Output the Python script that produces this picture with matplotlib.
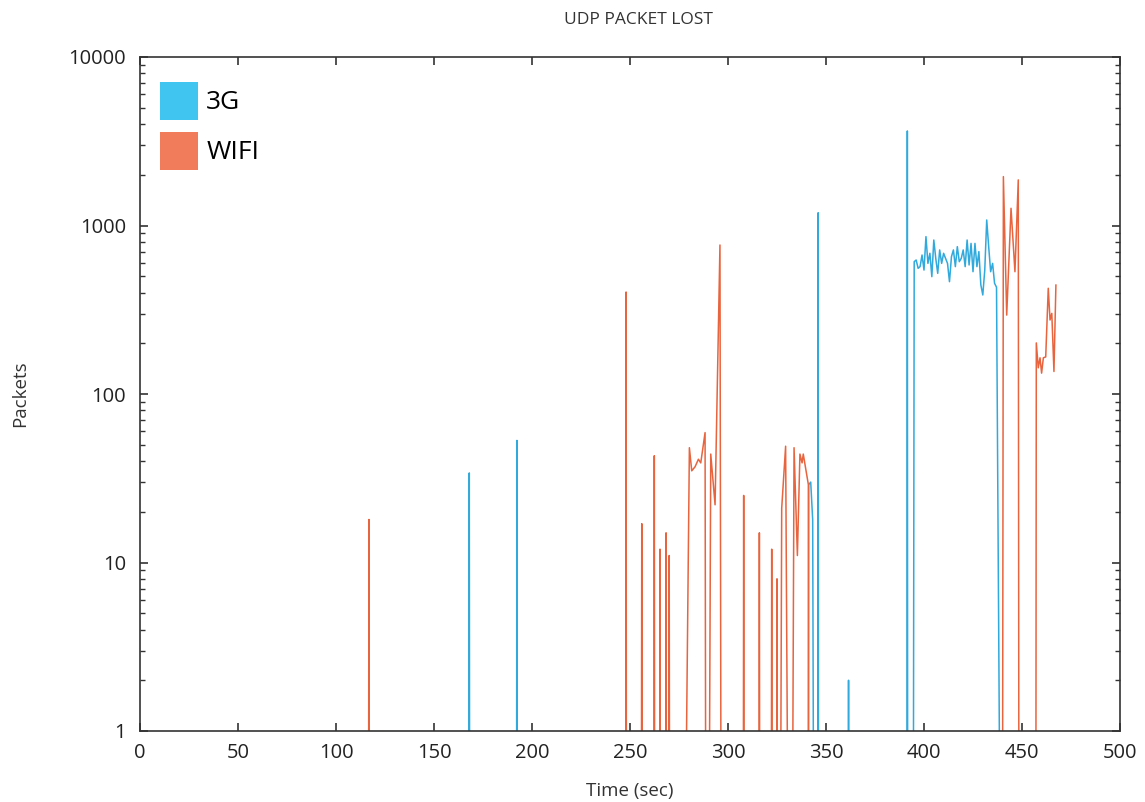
import numpy as np
import matplotlib
matplotlib.use('Agg')
import matplotlib.pyplot as plt
from matplotlib.patches import Patch
from matplotlib.ticker import LogLocator, FuncFormatter, NullFormatter

plt.rcParams['font.family'] = ['Open Sans', 'DejaVu Sans']

# 3G: single-sample spikes (time in sec, packets lost)
g3_spike_t = [168, 192.3, 346, 361.5, 391.5]
g3_spike_v = [34, 53, 1190, 2, 3640]
# 3G: continuous stretches (0 = no loss)
g3_seg1_t = [341.0, 341.2, 342.2, 343.2, 343.6]
g3_seg1_v = [0, 29, 30, 18, 0]
g3_seg2_t = [394.6] + list(np.arange(395, 438)) + [438.6]
g3_seg2_v = [0, 610, 624, 557, 570, 668, 544, 859, 596, 684, 497,
             820, 638, 520, 716, 596, 684, 638, 596, 464, 653,
             716, 570, 749, 610, 638, 716, 570, 820, 583, 783,
             532, 783, 570, 700, 444, 387, 544, 1078, 749, 532,
             596, 454, 430, 0]

# WIFI
wifi_spike_t = [116.8, 248, 256, 262.4, 265.3, 268.4, 270, 308, 316, 322.3, 325]
wifi_spike_v = [18, 403, 17, 43, 12, 15, 11, 25, 15, 12, 8]
wifi_seg1_t = [278.6, 280.3, 281.5, 283.2, 284.9, 286.1, 288.3, 288.6,
               290.5, 291.2, 293.4, 295.9, 296.4]
wifi_seg1_v = [0, 48, 35, 37, 41, 39, 59, 0, 0, 44, 22, 766, 0]
wifi_seg2_t = [326.9, 327.4, 329.4, 330.4, 333.0, 333.7, 335.4, 336.7,
               337.8, 338.4, 341.0, 341.1]
wifi_seg2_v = [0, 21, 49, 0, 0, 48, 11, 44, 39, 44, 29, 0]
wifi_seg3_t = [440.1, 440.5, 442.2, 444.4, 446.4, 448.1, 448.4]
wifi_seg3_v = [0, 1950, 294, 1265, 532, 1865, 0]
wifi_seg4_t = [457.1, 457.3, 458.3, 459.2, 460.0, 460.9, 462.1, 463.4,
               464.3, 465.2, 466.3, 467.3]
wifi_seg4_v = [0, 201, 143, 164, 133, 164, 166, 424, 275, 301, 136, 443]

c3g_line = '#30a9dc'
c3g_patch = '#40c4f0'
cwifi_line = '#e8643e'
cwifi_patch = '#f07c5c'


def build(spike_t, spike_v, segs):
    pts = [(0.0, 0)]
    for t, v in zip(spike_t, spike_v):
        pts += [(t - 0.15, 0), (t, v), (t + 0.15, 0)]
    for st, sv in segs:
        pts += list(zip(st, sv))
    pts.sort(key=lambda p: p[0])
    t = np.array([p[0] for p in pts])
    v = np.array([p[1] for p in pts], dtype=float)
    v = np.where(v > 0, v, 0.5)  # zero loss drops below the axis
    return t, v


t3, v3 = build(g3_spike_t, g3_spike_v,
               [(g3_seg1_t, g3_seg1_v), (g3_seg2_t, g3_seg2_v)])
tw, vw = build(wifi_spike_t, wifi_spike_v,
               [(wifi_seg1_t, wifi_seg1_v), (wifi_seg2_t, wifi_seg2_v),
                (wifi_seg3_t, wifi_seg3_v), (wifi_seg4_t, wifi_seg4_v)])

fig = plt.figure(figsize=(11.45, 8.02), dpi=100)
ax = fig.add_axes([140 / 1145, 1 - 731 / 802, 980 / 1145, 674 / 802])

ax.plot(t3, v3, color=c3g_line, lw=1.1)
ax.plot(tw, vw, color=cwifi_line, lw=1.1)

ax.set_yscale('log')
ax.set_ylim(1, 10000)
ax.set_xlim(0, 500)
ax.set_xticks(np.arange(0, 501, 50))
ax.yaxis.set_major_locator(LogLocator(base=10, numticks=10))
ax.yaxis.set_minor_locator(LogLocator(base=10, subs=np.arange(2, 10), numticks=10))
ax.yaxis.set_major_formatter(FuncFormatter(lambda y, p: '%d' % round(y)))
ax.yaxis.set_minor_formatter(NullFormatter())

axis_col = '#333333'
for s in ax.spines.values():
    s.set_color(axis_col)
    s.set_linewidth(1.2)
ax.tick_params(which='both', direction='in', top=True, right=True,
               color=axis_col, labelcolor='#222222')
ax.tick_params(which='major', length=6, width=1.2, labelsize=14.5)
ax.tick_params(axis='y', which='major', pad=10)
ax.tick_params(axis='x', which='major', pad=9)
ax.tick_params(which='minor', length=3.5, width=1.0)

ax.set_xlabel('Time (sec)', fontsize=13.5, color='#333333', labelpad=13)
ax.set_ylabel('Packets', fontsize=13.5, color='#333333', labelpad=28)
fig.text(638 / 1145, 1 - 20 / 802, 'UDP PACKET LOST', ha='center', va='center',
         fontsize=12.5, color='#333333')

handles = [Patch(facecolor=c3g_patch, edgecolor='none', label='3G'),
           Patch(facecolor=cwifi_patch, edgecolor='none', label='WIFI')]
ax.legend(handles=handles, loc='upper left', bbox_to_anchor=(0.02, 0.963),
          frameon=False, fontsize=19, handlelength=1.44, handleheight=1.84,
          handletextpad=0.33, labelspacing=0.45, borderpad=0, borderaxespad=0)

fig.savefig('out.png', dpi=100)
